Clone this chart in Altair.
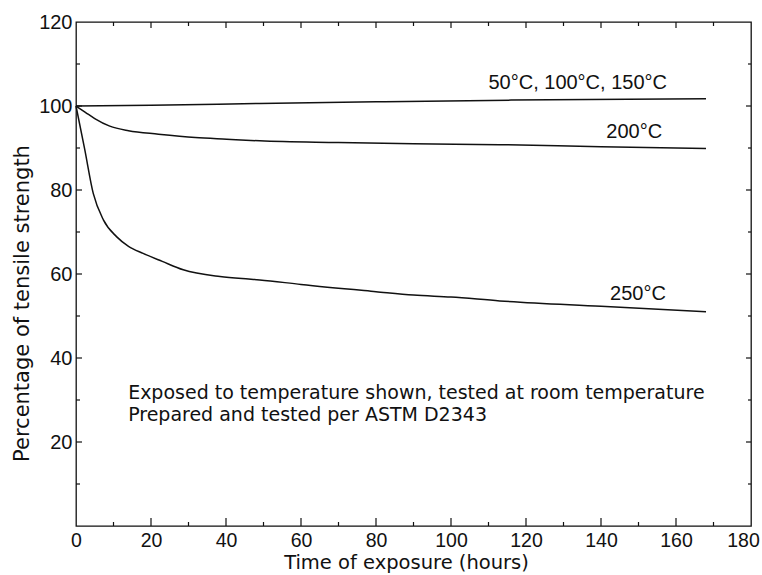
import altair as alt
import pandas as pd

# ---- data ----
hours_low = [0, 20, 49, 80, 116, 168]
pct_low = [100, 100.2, 100.6, 101.0, 101.4, 101.7]

hours_200 = [0, 1, 2.5, 5, 9, 14, 22, 31.8, 40.2, 49, 70, 90, 113, 140, 168]
pct_200 = [100, 99.4, 98.5, 97.0, 95.2, 94.1, 93.3, 92.5, 92.1, 91.7, 91.3, 91.0, 90.8, 90.3, 89.9]

hours_250 = [0, 2.3, 4.6, 7.3, 10.8, 14, 17.9, 23, 28.6, 38.4, 46, 49, 60, 80, 90, 100, 113, 140, 168]
pct_250 = [100, 89.8, 79.2, 72.9, 68.9, 66.6, 64.9, 63.0, 61.0, 59.4, 58.8, 58.6, 57.5, 55.8, 55.0, 54.5, 53.6, 52.3, 51.0]

series_names = ["50°C, 100°C, 150°C", "200°C", "250°C"]
label_hours = [157.6, 156.3, 157.3]
label_pct = [104.0, 92.4, 53.8]

note_lines = ["Exposed to temperature shown, tested at room temperature",
              "Prepared and tested per ASTM D2343"]
note_hours = [13.9, 13.9]
note_pct = [30.3, 25.1]

x_ticks = [0, 20, 40, 60, 80, 100, 120, 140, 160, 180]
y_ticks = [20, 40, 60, 80, 100, 120]
x_major_inner = [20, 40, 60, 80, 100, 120, 140, 160]
x_minor_inner = [10, 30, 50, 70, 90, 110, 130, 150, 170]
y_major_inner = [20, 40, 60, 80, 100]
y_minor_inner = [10, 30, 50, 70, 90, 110]

# ---- layout ----
W, H = 675, 504
XMAX, YMAX = 180, 120
px_x = W / XMAX
px_y = H / YMAX

rows = []
for name, hs, ps in [(series_names[0], hours_low, pct_low),
                     (series_names[1], hours_200, pct_200),
                     (series_names[2], hours_250, pct_250)]:
    for h, p in zip(hs, ps):
        rows.append({"series": name, "hours": h, "pct": p})
lines_df = pd.DataFrame(rows)

labels_df = pd.DataFrame({"hours": label_hours, "pct": label_pct, "text": series_names})
notes_df = pd.DataFrame({"hours": note_hours, "pct": note_pct, "text": note_lines})

# inward tick marks (lengths in pixels converted to data units)
tick_rows = []
for v in x_major_inner:
    tick_rows.append({"x": v, "x2": v, "y": 0, "y2": 8 / px_y})
    tick_rows.append({"x": v, "x2": v, "y": YMAX, "y2": YMAX - 6 / px_y})
for v in x_minor_inner:
    tick_rows.append({"x": v, "x2": v, "y": 0, "y2": 4 / px_y})
    tick_rows.append({"x": v, "x2": v, "y": YMAX, "y2": YMAX - 4 / px_y})
for v in y_major_inner:
    tick_rows.append({"x": 0, "x2": 6 / px_x, "y": v, "y2": v})
    tick_rows.append({"x": XMAX, "x2": XMAX - 5 / px_x, "y": v, "y2": v})
for v in y_minor_inner:
    tick_rows.append({"x": 0, "x2": 4 / px_x, "y": v, "y2": v})
    tick_rows.append({"x": XMAX, "x2": XMAX - 3 / px_x, "y": v, "y2": v})
ticks_df = pd.DataFrame(tick_rows)

INK = "#111111"

x_scale = alt.Scale(domain=[0, XMAX], nice=False, zero=False)
y_scale = alt.Scale(domain=[0, YMAX], nice=False, zero=False)

x_axis = alt.Axis(
    values=x_ticks, grid=False, ticks=False, domain=False,
    labelFont="Liberation Sans", labelFontSize=19.5, labelColor=INK,
    labelPadding=5, labelFlush=False, labelOverlap=False,
    labelOffset={"condition": {"test": "datum.value == 180", "value": -8}, "value": 0},
    title="Time of exposure (hours)", titleFont="DejaVu Sans", titleFontSize=19.5,
    titleFontWeight="normal", titleColor=INK, titleX=330, titleY=42,
    titleBaseline="alphabetic", titleAlign="center",
)
y_axis = alt.Axis(
    values=y_ticks, grid=False, ticks=False, domain=False,
    labelFont="Liberation Sans", labelFontSize=20, labelColor=INK,
    labelPadding=4, labelFlush=False, labelOverlap=False,
    title="Percentage of tensile strength", titleFont="DejaVu Sans", titleFontSize=21,
    titleFontWeight="normal", titleColor=INK, titleX=-48, titleY=281,
    titleAngle=270, titleBaseline="alphabetic", titleAlign="center",
)

lines = alt.Chart(lines_df).mark_line(color=INK, strokeWidth=1.5, interpolate="monotone").encode(
    x=alt.X("hours:Q", scale=x_scale, axis=x_axis),
    y=alt.Y("pct:Q", scale=y_scale, axis=y_axis),
    detail="series:N",
)

ticks = alt.Chart(ticks_df).mark_rule(color=INK, strokeWidth=1.2).encode(
    x=alt.X("x:Q", scale=x_scale), x2="x2:Q",
    y=alt.Y("y:Q", scale=y_scale), y2="y2:Q",
)

labels = alt.Chart(labels_df).mark_text(
    align="right", baseline="alphabetic", font="Liberation Sans", fontSize=20, color=INK
).encode(x=alt.X("hours:Q", scale=x_scale), y=alt.Y("pct:Q", scale=y_scale), text="text:N")

notes = alt.Chart(notes_df).mark_text(
    align="left", baseline="alphabetic", font="DejaVu Sans", fontSize=19, color=INK
).encode(x=alt.X("hours:Q", scale=x_scale), y=alt.Y("pct:Q", scale=y_scale), text="text:N")

chart = alt.layer(lines, ticks, labels, notes).properties(
    width=W, height=H,
    autosize=alt.AutoSizeParams(type="none"),
    padding={"left": 76, "top": 22, "right": 11, "bottom": 49},
    background="white",
).configure_view(stroke=INK, strokeWidth=1.3)

chart.save("out.html", embed_options={"renderer": "svg", "actions": False})
